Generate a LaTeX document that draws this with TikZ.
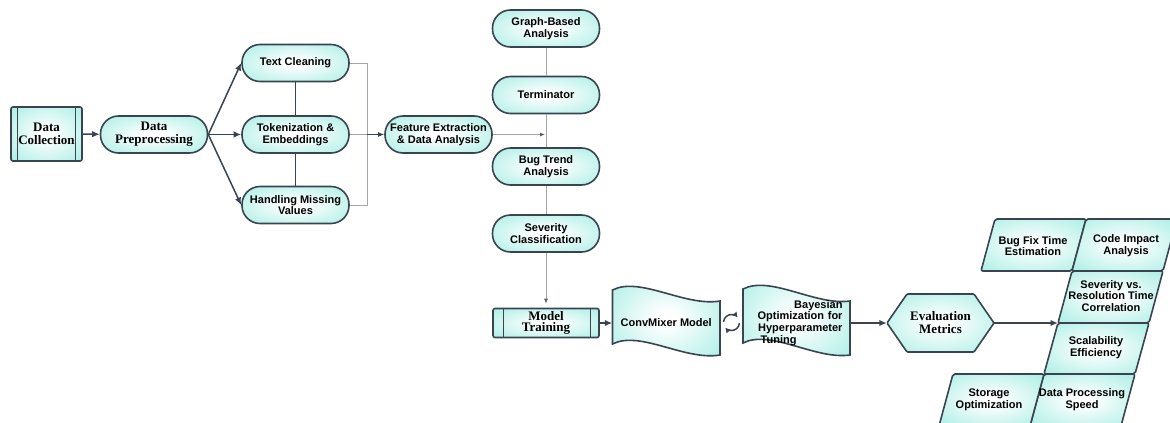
\documentclass[tikz,border=0pt]{standalone}
\usepackage{fontspec}
\setmainfont{Liberation Sans}
\newfontfamily\serifb{Liberation Serif}
\usetikzlibrary{arrows.meta}
\definecolor{stk}{HTML}{3A4450}
\definecolor{cfill}{RGB}{158,236,225}
\definecolor{thin}{HTML}{A2A6AA}
\pgfdeclareradialshading{myrad}{\pgfpoint{0bp}{0bp}}{color(0bp)=(white); color(4bp)=(white); color(40bp)=(cfill); color(50bp)=(cfill)}
\tikzset{
  shp/.style={draw=stk, line width=1.6pt, shade, shading=myrad},
  sans/.style={font=\bfseries\fontsize{11}{11.8}\selectfont},
  serif/.style={font=\serifb\bfseries\fontsize{13}{13}\selectfont},
  stad/.style={shp, rounded corners=18pt, minimum width=107pt, minimum height=37pt, inner sep=0pt, align=center},
  txt/.style={sans, align=center, inner sep=0pt},
  dk/.style={draw=stk, line width=1.5pt, -{Latex[length=7.5pt,width=6.5pt]}},
  dkl/.style={draw=stk, line width=1.6pt},
  gr/.style={draw=thin, line width=0.8pt},
}
\newcommand\pgram[3]{\path[shp, rounded corners=2pt] (#1,#2) -- ++(91,0) -- ++(-14,#3) -- ++(-91,0) -- cycle;}
\begin{document}
\begin{tikzpicture}[x=1pt,y=-1pt]
\useasboundingbox (0,0) rectangle (1170,423);

% ---- shapes drawn directly (tape, hexagon, parallelograms)
\path[shp] (612.5,290) .. controls (640,276) and (685,307) .. (720,301) -- (720,355) .. controls (685,361) and (640,330) .. (612.5,344) -- cycle;
\path[shp] (743,289) .. controls (770.5,275) and (815.5,306) .. (850,301) -- (850,355) .. controls (815.5,360) and (770.5,329) .. (743,343) -- cycle;
\path[shp, rounded corners=1pt] (887,323) -- (907,294) -- (974,294) -- (994,323) -- (974,352) -- (907,352) -- cycle;
\begin{scope}
  \clip (0,0) rectangle (1170,423);
  \pgram{995}{219}{52}
  \pgram{1086}{219}{52}
  \pgram{1072}{271}{52}
  \pgram{1058}{323}{51}
  \pgram{1044}{374}{52}
  \pgram{953}{374}{52}
\end{scope}

% ---- nodes
\node[shp, rounded corners=2pt, minimum width=71pt, minimum height=54pt, serif, align=center, inner sep=0pt] (dc) at (46.5,134) {Data\\Collection};
\draw[dkl, line width=1.3pt] ([xshift=7pt]dc.north west) -- ([xshift=7pt]dc.south west);
\draw[dkl, line width=1.3pt] ([xshift=-7pt]dc.north east) -- ([xshift=-7pt]dc.south east);
\node[stad, serif] (dp) at (154,134.5) {Data\\Preprocessing};

\node[stad, sans] (tc) at (295.5,63) {Text Cleaning};
\node[stad, sans] (tk) at (295.5,134.5) {Tokenization \&\\Embeddings};
\node[stad, sans] (hm) at (295.5,205) {Handling Missing\\Values};
\node[stad, sans] (fe) at (438.5,134.5) {Feature Extraction\\\& Data Analysis};

\node[stad, sans] (ga) at (546,28.5) {Graph-Based\\Analysis};
\node[stad, sans] (te) at (546,95) {Terminator};
\node[stad, sans] (bt) at (546,166.5) {Bug Trend\\Analysis};
\node[stad, sans] (sc) at (546,233.5) {Severity\\Classification};

\node[shp, rounded corners=2pt, minimum width=106pt, minimum height=29pt, align=center, inner sep=0pt, font=\serifb\bfseries\fontsize{13}{11.5}\selectfont] (mt) at (546,323) {Model\\Training};
\draw[dkl, line width=1.3pt] ([xshift=11pt]mt.north west) -- ([xshift=11pt]mt.south west);
\draw[dkl, line width=1.3pt] ([xshift=-9pt]mt.north east) -- ([xshift=-9pt]mt.south east);

\node[txt, minimum width=107.5pt] (cm) at (666.25,323) {ConvMixer Model};
\node[sans, text width=92pt, align=right, inner xsep=7.5pt, inner ysep=0pt] (bo) at (796.5,323) {Bayesian\\Optimization for\\Hyperparameter\\Tuning\rule{46pt}{0pt}};
\node[serif, align=center, inner sep=0pt, minimum width=107pt, minimum height=58pt] (em) at (940.5,323) {Evaluation\\Metrics};

\node[txt] (bf) at (1033,246) {Bug Fix Time\\Estimation};
\node[txt] (ci) at (1126,246) {Code Impact\\Analysis};
\node[txt] (sv) at (1111,296) {Severity vs.\\Resolution Time\\Correlation};
\node[txt] (se) at (1096,348) {Scalability\\Efficiency};
\node[txt] (so) at (989,400) {Storage\\Optimization};
\node[txt] (dps) at (1082,400) {Data Processing\\Speed};

\coordinate (j1) at (367,134.5);
\coordinate (j2) at (546,134.5);
\coordinate (svin) at (1058,323);
\coordinate (cyc) at (731.5,322.5);

% ---- connectors
\draw[dk] (dc) -- (dp);
\draw[dk] (dp.east) -- (tc.west);
\draw[dk] (dp.east) -- (tk.west);
\draw[dk] (dp.east) -- (hm.west);
\draw[dkl] (tc) -- (tk);
\draw[dkl] (tk) -- (hm);
\draw[gr] (tc.east) -| (j1);
\draw[gr] (hm.east) -| (j1);
\draw[gr] (tk.east) -- (j1);
\draw[draw=stk, line width=1pt, -{Latex[length=6pt,width=5pt]}] (j1) -- (fe.west);
\draw[gr, -{Latex[length=5pt,width=4pt,color=stk!85]}, shorten >=1pt] (fe.east) -- (j2);

\draw[gr] (ga) -- (te);
\draw[gr] (te) -- (bt);
\draw[gr] (bt) -- (sc);
\draw[gr, -{Latex[length=5pt,width=4pt,color=stk!85]}, shorten >=4pt] (sc) -- (mt);

\draw[dk] (mt) -- (cm);
\draw[draw=stk, line width=1.5pt, -{Latex[length=5pt,width=6pt]}] (cyc) ++(175:8pt) arc[start angle=175, end angle=40, radius=8pt];
\draw[draw=stk, line width=1.5pt, -{Latex[length=5pt,width=6pt]}] (cyc) ++(-5:8pt) arc[start angle=-5, end angle=-140, radius=8pt];
\draw[dk] (bo) -- (em);
\draw[dk] (em) -- (svin);
\end{tikzpicture}
\end{document}
